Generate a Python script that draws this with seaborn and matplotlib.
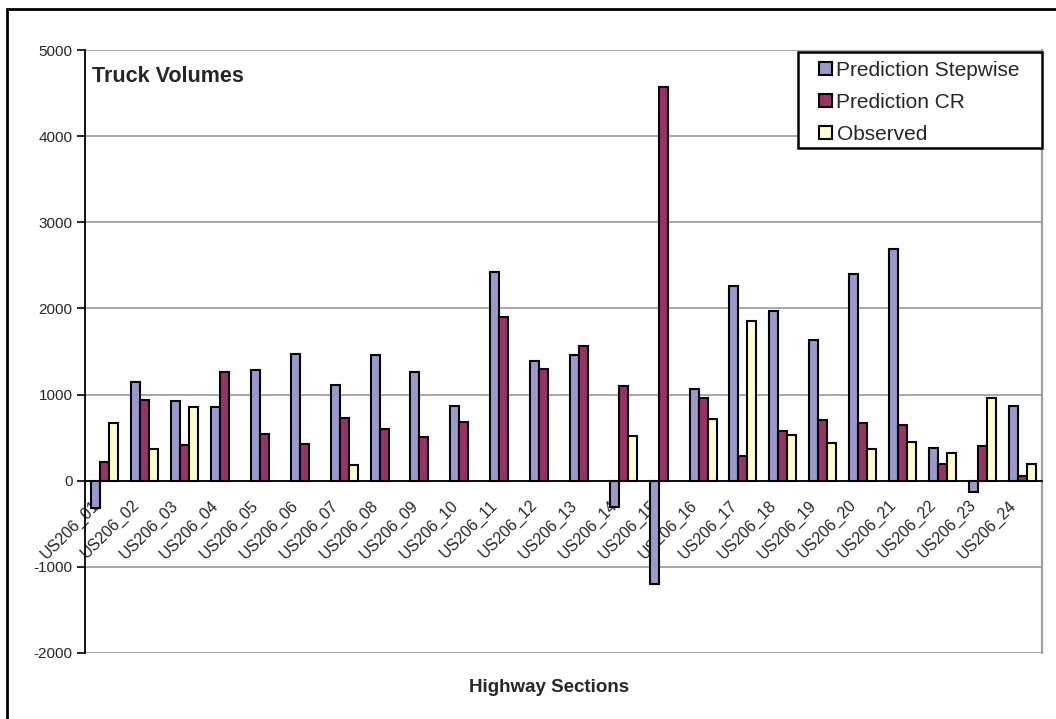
import numpy as np
import pandas as pd
import matplotlib
matplotlib.use("Agg")
import matplotlib.pyplot as plt
import matplotlib.transforms as mtransforms
from matplotlib.patches import Patch, Rectangle
import seaborn as sns

sections = [f"US206_{i:02d}" for i in range(1, 25)]
series_names = ["Prediction Stepwise", "Prediction CR", "Observed"]

pred_stepwise = [-320, 1150, 930, 860, 1290, 1475, 1115, 1455, 1265, 870, 2420, 1395,
                 1460, -300, -1200, 1060, 2260, 1975, 1635, 2400, 2690, 375, -130, 865]
pred_cr = [220, 940, 420, 1265, 540, 430, 730, 605, 505, 685, 1895, 1300,
           1565, 1105, 4575, 955, 290, 575, 710, 665, 645, 195, 405, 55]
observed = [675, 365, 850, np.nan, np.nan, np.nan, 180, np.nan, np.nan, np.nan, np.nan, np.nan,
            np.nan, 515, np.nan, 720, 1850, 525, 435, 365, 450, 320, 960, 195]

y_ticks = [-2000, -1000, 0, 1000, 2000, 3000, 4000, 5000]

colors = ["#9999CC", "#993366", "#FFFFCC"]

df = pd.DataFrame({
    "section": sections * 3,
    "series": np.repeat(series_names, len(sections)),
    "volume": pred_stepwise + pred_cr + observed,
})

sns.set_theme(style="white")
plt.rcParams["font.family"] = ["Liberation Sans", "DejaVu Sans"]

W, H = 1056, 719
fig = plt.figure(figsize=(W / 100, H / 100), dpi=100)


def fx(px):
    return px / W


def fy(py):
    return 1 - py / H


ax = fig.add_axes([fx(85), fy(653), (1042 - 85) / W, (653 - 50) / H])

sns.barplot(data=df, x="section", y="volume", hue="series", hue_order=series_names,
            order=sections, palette=colors, width=0.68, saturation=1,
            edgecolor="black", linewidth=1.5, errorbar=None, ax=ax, legend=False,
            zorder=3)

ax.set_ylim(-2000, 5000)
ax.set_xlim(-0.5, len(sections) - 0.5)
ax.set_yticks(y_ticks)
ax.set_yticklabels([str(v) for v in y_ticks], fontsize=11)
ax.yaxis.grid(True, color="#A0A0A0", linewidth=1.3, zorder=0)
ax.set_axisbelow(True)

# category axis sits on the zero line
ax.spines["bottom"].set_position(("data", 0))
ax.spines["bottom"].set_color("black")
ax.spines["bottom"].set_linewidth(1.3)
ax.spines["left"].set_color("black")
ax.spines["left"].set_linewidth(1.3)
ax.spines["top"].set_visible(False)
ax.spines["right"].set_color("#A0A0A0")
ax.spines["right"].set_linewidth(1.6)

ax.set_xticks(range(len(sections)))
ax.set_xticklabels(sections, rotation=45, ha="right", va="top", fontsize=11.5)
ax.set_xticks(np.arange(-0.5, len(sections), 1.0), minor=True)
ax.tick_params(axis="x", which="major", length=0, pad=12)
ax.tick_params(axis="x", which="minor", length=5, width=1.2, color="black", direction="out")
ax.tick_params(axis="y", which="major", length=6, width=1.2, color="black", direction="out", pad=3,
               left=True)
shift = mtransforms.ScaledTranslation(-3 / 100, 0, fig.dpi_scale_trans)
for lbl in ax.get_xticklabels():
    lbl.set_transform(lbl.get_transform() + shift)

ax.set_xlabel("")
ax.set_ylabel("")

fig.text(fx(92), fy(81.5), "Truck Volumes", fontsize=15.5,
         fontweight="bold", ha="left", va="baseline")
fig.text(fx(549), fy(688), "Highway Sections", fontsize=13.5,
         fontweight="bold", ha="center", va="center")

# legend box
fig.patches.append(Rectangle((fx(798), fy(147.7)), (1041.7 - 798) / W, (147.7 - 51.7) / H,
                             transform=fig.transFigure, facecolor="white",
                             edgecolor="black", linewidth=1.8, zorder=4))
handles = [Patch(facecolor=c, edgecolor="black", linewidth=1.5) for c in colors]
leg = fig.legend(handles, series_names, loc="upper left",
                 bbox_to_anchor=(fx(819), fy(61)),
                 bbox_transform=fig.transFigure, fontsize=15, frameon=False,
                 borderaxespad=0, borderpad=0,
                 handlelength=0.62, handleheight=0.62, handletextpad=0.22,
                 labelspacing=0.62)
leg.set_zorder(5)

# outer chart frame
fig.patches.append(Rectangle((fx(6.5), -0.05), 1.1, 1.05 - 8.5 / H,
                             transform=fig.transFigure, fill=False,
                             edgecolor="black", linewidth=2))

fig.savefig("out.png", dpi=100, facecolor="white")
